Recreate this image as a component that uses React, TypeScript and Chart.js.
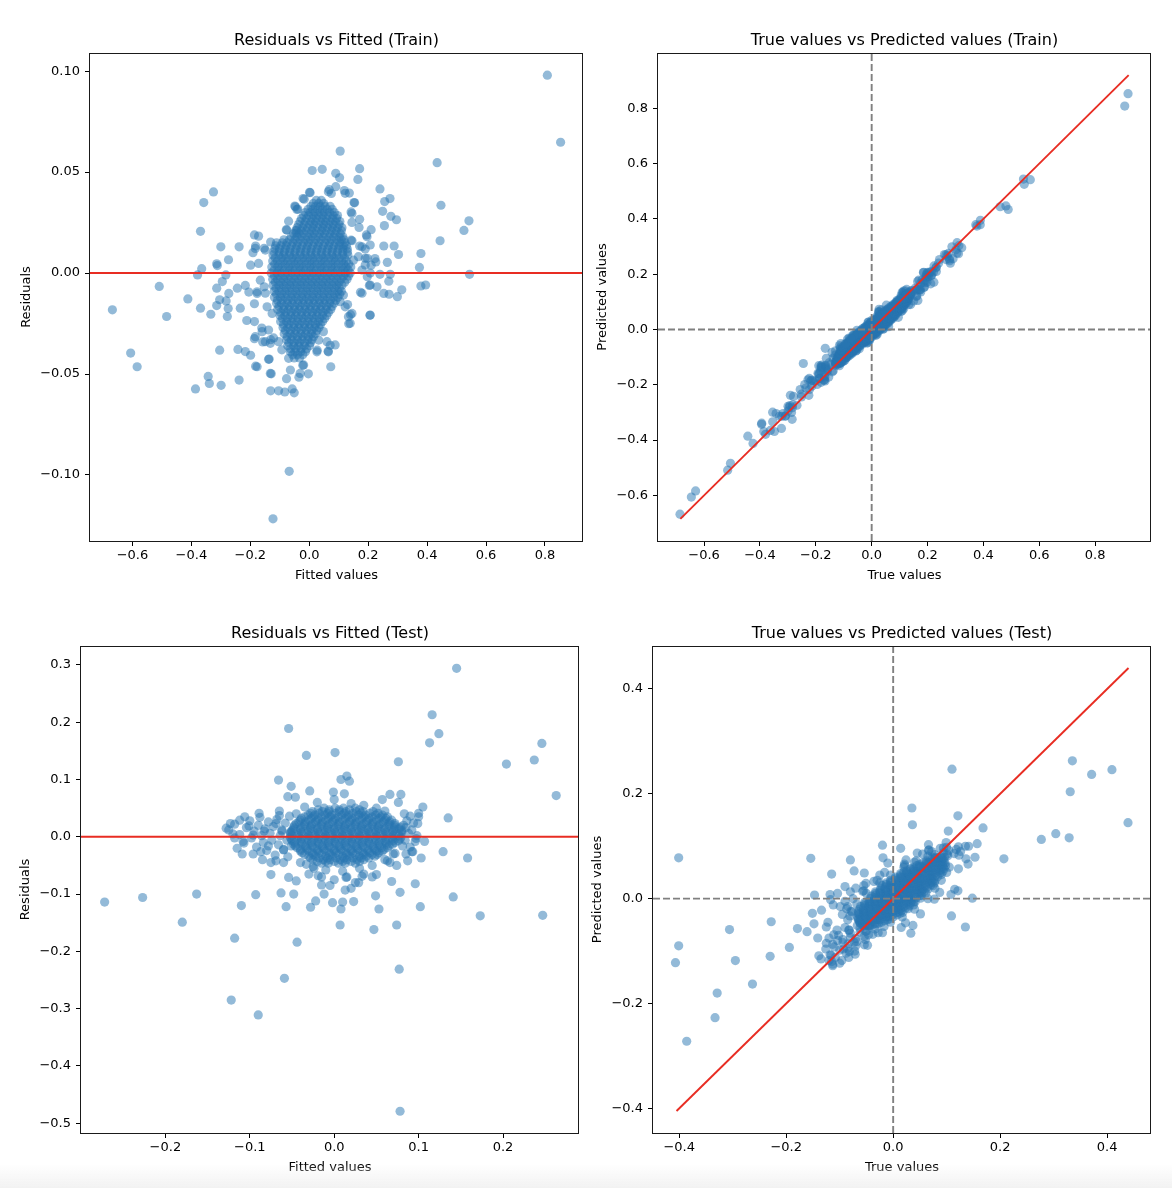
import React, { useEffect, useRef } from "react";
import { Chart, registerables } from "chart.js";

Chart.register(...registerables);

type Pair = [number, number];
type Row = [number, number[]];

// ---------------- TRAIN: [fitted value, residual] ----------------
const trainSparse: Pair[] = [
  [0.808, 0.098], [0.853, 0.0648], [0.105, 0.0604], [0.434, 0.0547], [0.01, 0.0508], [0.044, 0.0514],
  [0.171, 0.0517], [0.09, 0.0494], [0.103, 0.0472], [0.165, 0.0464], [0.24, 0.0417], [0.274, 0.0369],
  [0.256, 0.0354], [0.447, 0.0336], [0.249, 0.0306], [0.277, 0.0281], [0.296, 0.0264], [0.542, 0.0259],
  [0.525, 0.0211], [0.444, 0.016], [0.255, 0.0235], [0.253, 0.0134], [0.288, 0.0134], [0.303, 0.0092],
  [0.379, 0.0097], [0.374, 0.0028], [0.544, -0.0006], [0.379, -0.0064], [0.395, -0.0059], [0.314, -0.0083],
  [0.299, -0.0117], [0.271, -0.0105], [0.253, -0.0101], [0.27, -0.004], [0.275, -0.0006], [0.265, 0.0053],
  [0.24, -0.0006], [0.226, 0.0055], [0.21, 0.0039], [0.204, -0.0061], [0.23, -0.0068], [0.197, -0.0018],
  [0.206, -0.0209], [0.174, -0.0095], [0.134, -0.0251], [0.14, -0.0206], [0.13, -0.0156], [0.073, -0.0464],
  [0.064, -0.0387], [0.071, -0.0358], [0.027, -0.0382], [-0.003, -0.0499], [-0.022, -0.0457], [-0.035, -0.0516],
  [-0.051, -0.0593], [-0.058, -0.0574], [-0.083, -0.0589], [-0.104, -0.0583], [-0.131, -0.0583], [-0.129, -0.0499],
  [-0.136, -0.0426], [-0.077, -0.0523], [-0.068, -0.0982], [-0.123, -0.1217], [-0.182, -0.0461], [-0.199, -0.0407],
  [-0.217, -0.0389], [-0.242, -0.0378], [-0.238, -0.053], [-0.299, -0.0556], [-0.304, -0.0382], [-0.339, -0.0547],
  [-0.343, -0.0512], [-0.386, -0.0574], [-0.584, -0.0464], [-0.606, -0.0396], [-0.668, -0.0182], [-0.484, -0.0215],
  [-0.509, -0.0066], [-0.412, -0.0128], [-0.369, -0.0174], [-0.334, -0.0204], [-0.314, -0.0161], [-0.304, -0.0132],
  [-0.282, -0.0138], [-0.275, -0.0176], [-0.278, -0.0215], [-0.273, -0.0101], [-0.295, -0.0042], [-0.314, -0.0075],
  [-0.283, -0.0009], [-0.379, -0.0009], [-0.365, 0.0022], [-0.314, 0.0046], [-0.312, 0.0037], [-0.274, 0.0066],
  [-0.3, 0.013], [-0.325, 0.0402], [-0.358, 0.0349], [-0.369, 0.0207], [-0.238, 0.013], [-0.186, 0.0189],
  [-0.182, 0.0134], [-0.153, 0.0123], [-0.131, 0.0154], [-0.199, 0.0039], [-0.191, 0.0101], [-0.244, -0.0075],
  [-0.217, -0.0061], [-0.205, -0.0094], [-0.234, -0.0174], [-0.212, -0.0235], [-0.186, -0.024], [-0.186, -0.0152],
  [-0.177, -0.0101], [-0.153, -0.0068], [-0.161, -0.0272], [-0.186, -0.0325], [-0.158, -0.0341], [-0.131, -0.033],
  [-0.121, -0.0321], [0.001, 0.04], [-0.021, 0.0369], [-0.049, 0.0332], [-0.039, 0.0317], [-0.07, 0.0257],
  [-0.078, 0.0215], [-0.045, 0.0198], [0.075, 0.0394], [0.068, 0.0413], [0.09, 0.0428], [0.119, 0.0409],
  [0.136, 0.0396], [0.152, 0.0349], [0.142, 0.0303], [0.145, 0.0251], [0.171, 0.0266], [0.169, 0.0226],
  [0.194, 0.0189], [0.21, 0.0215], [0.142, 0.0163], [0.171, 0.0134], [0.19, 0.0119], [0.197, 0.0073],
  [0.223, 0.0072], [0.003, 0.0398], [-0.017, 0.0366], [0.065, 0.0403], [0.122, 0.0395], [0.154, 0.0348],
  [-0.047, 0.0328], [-0.042, 0.0315], [-0.076, 0.0213], [-0.042, 0.0213], [0.145, 0.0295], [0.196, 0.018],
  [0.207, 0.0139], [0.145, 0.016], [0.179, 0.013], [0.19, 0.0073], [-0.172, 0.0183], [-0.183, 0.0122],
  [-0.149, 0.0114], [-0.172, 0.0048], [-0.166, -0.0035], [-0.177, -0.0093], [-0.149, -0.01], [-0.143, -0.0167],
  [-0.126, -0.02], [-0.138, -0.0282], [-0.16, -0.029], [-0.183, -0.0315], [-0.149, -0.034], [-0.132, -0.0348],
  [-0.104, -0.034], [-0.093, -0.038], [-0.138, -0.0427], [-0.177, -0.0464], [-0.07, -0.0422], [-0.064, -0.048],
  [-0.019, -0.0455], [-0.031, -0.0497], [-0.132, -0.0497], [0.026, -0.039], [0.065, -0.039], [0.06, -0.034],
  [0.088, -0.0356], [0.032, -0.0332], [0.048, -0.029], [0.139, -0.0249], [0.133, -0.0216], [0.145, -0.02],
  [0.122, -0.0167], [0.105, -0.0142], [0.116, -0.0109], [0.179, -0.01], [0.207, -0.0059], [0.207, -0.0208],
  [0.15, 0.0064], [0.167, 0.0081], [0.19, 0.004], [0.179, 0.0015], [0.207, 0.0],
];

// dense core of the train cloud: [residual, fitted values on that level]
const trainCoreRows: Row[] = [
  [0.036, [0.024, 0.041]],
  [0.0345, [0.014, 0.032, 0.049]],
  [0.033, [0.006, 0.021, 0.037, 0.054, 0.071]],
  [0.0315, [-0.004, 0.012, 0.029, 0.045, 0.061, 0.078]],
  [0.03, [-0.013, 0.003, 0.019, 0.036, 0.051, 0.069, 0.085]],
  [0.0285, [-0.019, -0.002, 0.015, 0.031, 0.047, 0.064, 0.081, 0.096]],
  [0.027, [-0.026, -0.009, 0.011, 0.025, 0.044, 0.059, 0.078, 0.093]],
  [0.0255, [-0.031, -0.013, 0.006, 0.021, 0.039, 0.055, 0.072, 0.089, 0.104]],
  [0.024, [-0.036, -0.017, 0.001, 0.015, 0.034, 0.049, 0.067, 0.082, 0.101]],
  [0.0225, [-0.041, -0.022, -0.006, 0.012, 0.029, 0.046, 0.062, 0.079, 0.096, 0.111]],
  [0.021, [-0.046, -0.027, -0.011, 0.008, 0.023, 0.042, 0.057, 0.076, 0.091, 0.109]],
  [0.0195, [-0.053, -0.034, -0.018, 0.002, 0.017, 0.036, 0.052, 0.071, 0.087, 0.105]],
  [0.018, [-0.061, -0.041, -0.025, -0.005, 0.011, 0.031, 0.047, 0.067, 0.083, 0.101, 0.114]],
  [0.0165, [-0.086, -0.067, -0.048, -0.031, -0.012, 0.004, 0.022, 0.04, 0.059, 0.075, 0.094, 0.109, 0.118]],
  [0.015, [-0.111, -0.091, -0.075, -0.055, -0.039, -0.019, -0.003, 0.017, 0.033, 0.053, 0.069, 0.089, 0.104, 0.121]],
  [0.0135, [-0.114, -0.096, -0.078, -0.06, -0.042, -0.024, -0.006, 0.012, 0.03, 0.048, 0.066, 0.084, 0.101, 0.117, 0.126]],
  [0.012, [-0.117, -0.101, -0.081, -0.065, -0.045, -0.029, -0.009, 0.007, 0.027, 0.043, 0.063, 0.079, 0.099, 0.114, 0.129]],
  [0.0105, [-0.12, -0.102, -0.084, -0.066, -0.048, -0.03, -0.012, 0.006, 0.024, 0.042, 0.06, 0.078, 0.096, 0.114, 0.13]],
  [0.009, [-0.123, -0.103, -0.087, -0.067, -0.051, -0.031, -0.015, 0.005, 0.021, 0.041, 0.057, 0.077, 0.093, 0.113, 0.131]],
  [0.0075, [-0.115, -0.095, -0.079, -0.059, -0.043, -0.023, -0.007, 0.012, 0.03, 0.048, 0.066, 0.084, 0.102, 0.12]],
  [0.006, [-0.124, -0.108, -0.088, -0.072, -0.052, -0.036, -0.016, 0.002, 0.018, 0.038, 0.054, 0.074, 0.09, 0.11, 0.126]],
  [0.0045, [-0.117, -0.099, -0.081, -0.063, -0.045, -0.027, -0.009, 0.009, 0.027, 0.045, 0.063, 0.081, 0.099, 0.117, 0.134]],
  [0.003, [-0.127, -0.107, -0.091, -0.071, -0.055, -0.035, -0.019, 0.001, 0.017, 0.037, 0.053, 0.073, 0.089, 0.109, 0.125, 0.141]],
  [0.0015, [-0.119, -0.101, -0.083, -0.065, -0.047, -0.029, -0.011, 0.007, 0.025, 0.043, 0.061, 0.079, 0.097, 0.115, 0.132]],
  [0.0, [-0.129, -0.109, -0.093, -0.073, -0.057, -0.037, -0.021, -0.001, 0.015, 0.035, 0.051, 0.071, 0.087, 0.107, 0.123, 0.139]],
  [-0.0015, [-0.118, -0.1, -0.082, -0.064, -0.046, -0.028, -0.01, 0.008, 0.026, 0.044, 0.062, 0.08, 0.098, 0.116, 0.133]],
  [-0.003, [-0.124, -0.108, -0.088, -0.072, -0.052, -0.036, -0.016, 0.0, 0.02, 0.036, 0.056, 0.072, 0.092, 0.108, 0.128]],
  [-0.0045, [-0.115, -0.097, -0.079, -0.061, -0.043, -0.025, -0.007, 0.011, 0.029, 0.047, 0.065, 0.083, 0.101, 0.12]],
  [-0.006, [-0.123, -0.103, -0.087, -0.067, -0.051, -0.031, -0.015, 0.005, 0.021, 0.041, 0.057, 0.077, 0.093, 0.111]],
  [-0.0075, [-0.113, -0.095, -0.077, -0.059, -0.041, -0.023, -0.005, 0.013, 0.031, 0.049, 0.067, 0.085, 0.102]],
  [-0.009, [-0.119, -0.103, -0.083, -0.067, -0.047, -0.031, -0.011, 0.005, 0.025, 0.041, 0.061, 0.077, 0.097, 0.109]],
  [-0.0105, [-0.111, -0.093, -0.075, -0.057, -0.039, -0.021, -0.003, 0.015, 0.033, 0.051, 0.069, 0.087, 0.103]],
  [-0.012, [-0.118, -0.098, -0.082, -0.062, -0.046, -0.026, -0.01, 0.01, 0.026, 0.046, 0.062, 0.082, 0.097]],
  [-0.0135, [-0.108, -0.09, -0.072, -0.054, -0.036, -0.018, 0.0, 0.018, 0.036, 0.054, 0.072, 0.09]],
  [-0.015, [-0.111, -0.095, -0.075, -0.059, -0.039, -0.023, -0.003, 0.013, 0.033, 0.049, 0.069, 0.084]],
  [-0.0165, [-0.103, -0.085, -0.067, -0.049, -0.031, -0.013, 0.005, 0.023, 0.041, 0.059, 0.077]],
  [-0.018, [-0.107, -0.087, -0.071, -0.051, -0.035, -0.015, 0.001, 0.021, 0.037, 0.057, 0.073]],
  [-0.0195, [-0.097, -0.079, -0.061, -0.043, -0.025, -0.007, 0.011, 0.029, 0.047, 0.065]],
  [-0.021, [-0.099, -0.083, -0.063, -0.047, -0.027, -0.011, 0.009, 0.025, 0.045, 0.059]],
  [-0.0225, [-0.091, -0.073, -0.055, -0.037, -0.019, -0.001, 0.017, 0.035, 0.052]],
  [-0.024, [-0.097, -0.077, -0.061, -0.041, -0.025, -0.005, 0.011, 0.031, 0.045]],
  [-0.0255, [-0.087, -0.069, -0.051, -0.033, -0.015, 0.003, 0.021, 0.038]],
  [-0.027, [-0.089, -0.073, -0.053, -0.037, -0.017, -0.001, 0.019, 0.033]],
  [-0.0285, [-0.081, -0.063, -0.045, -0.027, -0.009, 0.009, 0.026]],
  [-0.03, [-0.085, -0.065, -0.049, -0.029, -0.013, 0.007, 0.021]],
  [-0.0315, [-0.075, -0.057, -0.039, -0.021, -0.003, 0.014]],
  [-0.033, [-0.077, -0.061, -0.041, -0.025, -0.005, 0.009]],
  [-0.0345, [-0.069, -0.051, -0.033, -0.015, 0.004]],
  [-0.036, [-0.073, -0.053, -0.037, -0.017, 0.001]],
  [-0.0375, [-0.064, -0.045, -0.027, -0.009]],
  [-0.039, [-0.064, -0.049, -0.029, -0.013]],
  [-0.0405, [-0.056, -0.04, -0.022]],
  [-0.042, [-0.051, -0.033]],
];

// ---------------- TEST: [fitted value, residual] ----------------
const testSparse: Pair[] = [
  [0.145, 0.294], [0.116, 0.213], [0.124, 0.18], [0.113, 0.164], [-0.054, 0.189], [0.246, 0.163],
  [0.237, 0.134], [0.204, 0.127], [0.263, 0.072], [0.001, 0.147], [-0.033, 0.142], [0.076, 0.131],
  [0.015, 0.106], [0.008, 0.1], [0.018, 0.097], [-0.066, 0.099], [-0.051, 0.088], [-0.029, 0.08],
  [-0.001, 0.078], [0.012, 0.075], [-0.055, 0.07], [-0.046, 0.069], [0.066, 0.074], [0.079, 0.074],
  [0.057, 0.065], [0.076, 0.06], [0.105, 0.052], [0.1, 0.041], [0.135, 0.033], [-0.089, 0.041],
  [-0.065, 0.037], [-0.106, 0.035], [-0.123, 0.023], [-0.128, 0.015], [-0.12, 0.005], [-0.118, -0.002],
  [-0.107, -0.011], [-0.109, -0.03], [-0.087, -0.026], [0.107, -0.008], [0.129, -0.026], [0.158, -0.037],
  [0.103, -0.037], [0.092, -0.026], [-0.075, -0.066], [-0.054, -0.071], [-0.045, -0.077], [0.05, -0.066],
  [0.068, -0.078], [0.096, -0.082], [0.078, -0.097], [-0.272, -0.114], [-0.227, -0.106], [-0.163, -0.1],
  [-0.093, -0.101], [-0.063, -0.098], [-0.048, -0.1], [-0.11, -0.12], [-0.057, -0.122], [-0.028, -0.123],
  [-0.022, -0.112], [-0.012, -0.1], [-0.002, -0.115], [0.008, -0.126], [0.01, -0.114], [0.023, -0.113],
  [0.049, -0.103], [0.053, -0.126], [0.102, -0.122], [0.141, -0.105], [0.173, -0.138], [0.247, -0.137],
  [-0.18, -0.149], [0.007, -0.154], [0.047, -0.162], [0.074, -0.154], [-0.118, -0.177], [-0.044, -0.184],
  [0.077, -0.231], [-0.059, -0.247], [-0.122, -0.285], [-0.09, -0.311], [0.078, -0.479], [-0.015, -0.084],
  [0.013, -0.093], [0.029, -0.08], [0.033, -0.069], [-0.024, -0.055], [-0.033, -0.048], [-0.019, -0.068],
  [0.014, -0.071], [0.097, -0.003], [0.099, 0.023], [0.1, 0.035], [0.085, 0.016], [0.081, -0.016],
  [0.072, -0.029], [0.063, -0.042], [0.074, -0.05], [0.066, -0.045], [-0.083, 0.01], [-0.078, -0.016],
  [-0.069, -0.042], [-0.06, -0.023], [-0.051, -0.016], [-0.069, 0.023], [-0.062, 0.01], [-0.096, 0.003],
  [-0.101, 0.019], [-0.112, 0.029],
  [-0.125, 0.012], [-0.118, 0.022], [-0.112, 0.004], [-0.108, -0.008], [-0.104, 0.016], [-0.1, 0.028],
  [-0.098, -0.002], [-0.095, 0.01], [-0.092, -0.018], [-0.09, 0.02], [-0.088, 0.034], [-0.086, 0.002],
  [-0.084, -0.01], [-0.082, 0.014], [-0.08, -0.024], [-0.078, 0.026], [-0.076, 0.006], [-0.074, -0.006],
  [-0.072, 0.018], [-0.07, -0.032], [-0.068, 0.03], [-0.066, -0.014], [-0.064, 0.002], [-0.062, 0.012],
  [-0.06, -0.022], [-0.058, 0.024], [-0.056, -0.006], [-0.055, -0.035], [-0.053, 0.036], [-0.052, 0.008],
  [-0.115, -0.02], [-0.096, -0.03], [-0.085, -0.04], [-0.075, -0.045], [-0.065, 0.045], [-0.06, -0.045],
  [0.082, 0.02], [0.084, -0.006], [0.086, 0.028], [0.088, 0.006], [0.09, -0.018], [0.092, 0.012],
  [0.094, 0.024], [0.096, -0.008], [0.085, -0.03], [0.09, 0.036], [0.098, 0.002], [0.083, 0.04],
  [0.087, -0.042], [0.093, -0.026],
  [-0.02, 0.06], [0.0, 0.065], [0.02, 0.058], [0.035, 0.055], [0.05, 0.05], [-0.035, 0.052],
  [0.06, 0.045], [0.045, -0.05], [0.03, -0.055], [0.01, -0.06], [-0.01, -0.058], [-0.025, -0.052],
  [-0.04, -0.045], [0.06, -0.04], [0.07, -0.03], [-0.045, 0.04], [0.015, -0.07], [0.0, -0.075],
  [-0.015, -0.07], [0.035, -0.065], [0.025, -0.08], [-0.03, -0.065], [0.045, -0.07], [-0.005, -0.085],
  [0.02, -0.09],
];

// dense core of the test cloud: [residual, fitted values on that level]
const testCoreRows: Row[] = [
  [0.05, [-0.012, 0.001, 0.011, 0.025]],
  [0.047, [-0.019, -0.006, 0.006, 0.018, 0.03]],
  [0.044, [-0.026, -0.014, -0.006, 0.006, 0.014, 0.026, 0.034, 0.046]],
  [0.041, [-0.028, -0.018, -0.008, 0.002, 0.012, 0.022, 0.032, 0.042, 0.052]],
  [0.038, [-0.031, -0.023, -0.011, -0.003, 0.009, 0.017, 0.029, 0.037, 0.049, 0.057]],
  [0.035, [-0.035, -0.025, -0.015, -0.005, 0.005, 0.015, 0.025, 0.035, 0.045, 0.055, 0.063]],
  [0.032, [-0.039, -0.027, -0.019, -0.007, 0.001, 0.013, 0.021, 0.033, 0.041, 0.053, 0.061]],
  [0.029, [-0.04, -0.03, -0.02, -0.01, 0.0, 0.01, 0.02, 0.03, 0.04, 0.05, 0.06, 0.068]],
  [0.026, [-0.042, -0.034, -0.022, -0.014, -0.002, 0.006, 0.018, 0.026, 0.038, 0.046, 0.058, 0.066]],
  [0.023, [-0.045, -0.035, -0.025, -0.015, -0.005, 0.005, 0.015, 0.025, 0.035, 0.045, 0.055, 0.065, 0.072]],
  [0.02, [-0.047, -0.035, -0.027, -0.015, -0.007, 0.005, 0.013, 0.025, 0.033, 0.045, 0.053, 0.065, 0.072]],
  [0.017, [-0.048, -0.038, -0.028, -0.018, -0.008, 0.002, 0.012, 0.022, 0.032, 0.042, 0.052, 0.062, 0.072, 0.079]],
  [0.014, [-0.048, -0.04, -0.028, -0.02, -0.008, 0.0, 0.012, 0.02, 0.032, 0.04, 0.052, 0.06, 0.071, 0.077]],
  [0.011, [-0.05, -0.04, -0.03, -0.02, -0.01, 0.0, 0.01, 0.02, 0.03, 0.04, 0.05, 0.06, 0.07, 0.08]],
  [0.008, [-0.051, -0.039, -0.031, -0.019, -0.011, 0.001, 0.009, 0.021, 0.029, 0.041, 0.049, 0.061, 0.069, 0.08]],
  [0.005, [-0.052, -0.042, -0.032, -0.022, -0.012, -0.002, 0.008, 0.018, 0.028, 0.038, 0.048, 0.058, 0.068, 0.078]],
  [0.002, [-0.05, -0.042, -0.03, -0.022, -0.01, -0.002, 0.01, 0.018, 0.03, 0.038, 0.05, 0.058, 0.07, 0.077]],
  [-0.001, [-0.052, -0.042, -0.032, -0.022, -0.012, -0.002, 0.008, 0.018, 0.028, 0.038, 0.048, 0.058, 0.068, 0.079]],
  [-0.004, [-0.051, -0.039, -0.031, -0.019, -0.011, 0.001, 0.009, 0.021, 0.029, 0.041, 0.049, 0.061, 0.069, 0.078]],
  [-0.007, [-0.05, -0.04, -0.03, -0.02, -0.01, 0.0, 0.01, 0.02, 0.03, 0.04, 0.05, 0.06, 0.07, 0.076]],
  [-0.01, [-0.047, -0.039, -0.027, -0.019, -0.007, 0.001, 0.013, 0.021, 0.033, 0.041, 0.053, 0.061, 0.072]],
  [-0.013, [-0.048, -0.038, -0.028, -0.018, -0.008, 0.002, 0.012, 0.022, 0.032, 0.042, 0.052, 0.062, 0.069]],
  [-0.016, [-0.046, -0.034, -0.026, -0.014, -0.006, 0.006, 0.014, 0.026, 0.034, 0.046, 0.054, 0.065]],
  [-0.019, [-0.044, -0.034, -0.024, -0.014, -0.004, 0.006, 0.016, 0.026, 0.036, 0.046, 0.056, 0.063]],
  [-0.022, [-0.04, -0.032, -0.02, -0.012, 0.0, 0.008, 0.02, 0.028, 0.04, 0.048, 0.059]],
  [-0.025, [-0.04, -0.03, -0.02, -0.01, 0.0, 0.01, 0.02, 0.03, 0.04, 0.05, 0.057]],
  [-0.028, [-0.038, -0.026, -0.018, -0.006, 0.002, 0.014, 0.022, 0.034, 0.042, 0.053]],
  [-0.031, [-0.035, -0.025, -0.015, -0.005, 0.005, 0.015, 0.025, 0.035, 0.045, 0.051]],
  [-0.034, [-0.03, -0.022, -0.01, -0.002, 0.01, 0.018, 0.03, 0.038, 0.048]],
  [-0.037, [-0.028, -0.018, -0.008, 0.002, 0.012, 0.022, 0.032, 0.041]],
  [-0.04, [-0.025, -0.013, -0.005, 0.007, 0.015, 0.027, 0.035]],
  [-0.043, [-0.02, -0.01, 0.0, 0.01, 0.02, 0.03]],
  [-0.046, [-0.015, -0.007, 0.005, 0.013, 0.025]],
];

// identity (y = x) line ends
const trainIdentity: [number, number] = [-0.685, 0.92];
const testIdentity: [number, number] = [-0.405, 0.44];

// axis ranges and tick labels
const trainResidXRange: [number, number] = [-0.744, 0.929];
const trainResidYRange: [number, number] = [-0.1327, 0.109];
const trainTrueRange: [number, number] = [-0.765, 1.0];
const testResidXRange: [number, number] = [-0.3, 0.29];
const testResidYRange: [number, number] = [-0.517, 0.333];
const testTrueXRange: [number, number] = [-0.449, 0.482];
const testTrueYRange: [number, number] = [-0.447, 0.482];

const trainFittedTicks = [-0.6, -0.4, -0.2, 0.0, 0.2, 0.4, 0.6, 0.8];
const trainResidTicks = [-0.1, -0.05, 0.0, 0.05, 0.1];
const trainPredTicks = [-0.6, -0.4, -0.2, 0.0, 0.2, 0.4, 0.6, 0.8];
const testFittedTicks = [-0.2, -0.1, 0.0, 0.1, 0.2];
const testResidTicks = [-0.5, -0.4, -0.3, -0.2, -0.1, 0.0, 0.1, 0.2, 0.3];
const testTrueTicks = [-0.4, -0.2, 0.0, 0.2, 0.4];

// ---------------- assemble series ----------------
function rowsToPairs(rows: Row[]): Pair[] {
  const out: Pair[] = [];
  for (const [res, xs] of rows) for (const f of xs) out.push([f, res]);
  return out;
}
const trainPairs = [...trainSparse, ...rowsToPairs(trainCoreRows)];
const testPairs = [...testSparse, ...rowsToPairs(testCoreRows)];

// residual = true - predicted  =>  true = predicted + residual
const trainResidPoints = trainPairs.map(([f, r]) => ({ x: f, y: r }));
const trainTruePredPoints = trainPairs.map(([f, r]) => ({ x: f + r, y: f }));
const testResidPoints = testPairs.map(([f, r]) => ({ x: f, y: r }));
const testTruePredPoints = testPairs.map(([f, r]) => ({ x: f + r, y: f }));

// ---------------- styling ----------------
const FONT = '"DejaVu Sans", sans-serif';
const POINT_COLOR = "rgba(40,117,177,0.5)";
const CLEAR = "rgba(0,0,0,0)";
const RED = "rgb(232,45,35)";
const GRAY = "rgb(128,128,128)";
const CW = 586;
const CH = 594;

interface RefLine { axis: "h" | "v"; value: number; color: string; dash: number[] }
interface PanelSpec {
  left: number; top: number;
  box: { left: number; top: number; right: number; bottom: number };
  title: string; xLabel: string; yLabel: string;
  xRange: [number, number]; yRange: [number, number];
  xTicks: number[]; yTicks: number[]; xDec: number; yDec: number;
  points: { x: number; y: number }[];
  identity?: [number, number];
  lines: RefLine[];
  yTitlePad: number; xTitlePad: number;
}

const panels: PanelSpec[] = [
  {
    left: 0, top: 0, box: { left: 90, top: 53, right: 583, bottom: 541 },
    title: "Residuals vs Fitted (Train)", xLabel: "Fitted values", yLabel: "Residuals",
    xRange: trainResidXRange, yRange: trainResidYRange, xTicks: trainFittedTicks, yTicks: trainResidTicks,
    xDec: 1, yDec: 2, points: trainResidPoints,
    lines: [{ axis: "h", value: 0, color: RED, dash: [] }], yTitlePad: 18.7, xTitlePad: 10.5,
  },
  {
    left: 586, top: 0, box: { left: 72, top: 53, right: 565, bottom: 541 },
    title: "True values vs Predicted values (Train)", xLabel: "True values", yLabel: "Predicted values",
    xRange: trainTrueRange, yRange: trainTrueRange, xTicks: trainFittedTicks, yTicks: trainPredTicks,
    xDec: 1, yDec: 1, points: trainTruePredPoints, identity: trainIdentity,
    lines: [
      { axis: "h", value: 0, color: GRAY, dash: [7, 3] },
      { axis: "v", value: 0, color: GRAY, dash: [7, 3] },
    ], yTitlePad: 8.8, xTitlePad: 10.5,
  },
  {
    left: 0, top: 594, box: { left: 81, top: 52, right: 579, bottom: 539 },
    title: "Residuals vs Fitted (Test)", xLabel: "Fitted values", yLabel: "Residuals",
    xRange: testResidXRange, yRange: testResidYRange, xTicks: testFittedTicks, yTicks: testResidTicks,
    xDec: 1, yDec: 1, points: testResidPoints,
    lines: [{ axis: "h", value: 0, color: RED, dash: [] }], yTitlePad: 18.2, xTitlePad: 13,
  },
  {
    left: 586, top: 594, box: { left: 67, top: 52, right: 565, bottom: 539 },
    title: "True values vs Predicted values (Test)", xLabel: "True values", yLabel: "Predicted values",
    xRange: testTrueXRange, yRange: testTrueYRange, xTicks: testTrueTicks, yTicks: testTrueTicks,
    xDec: 1, yDec: 1, points: testTruePredPoints, identity: testIdentity,
    lines: [
      { axis: "h", value: 0, color: GRAY, dash: [7, 3] },
      { axis: "v", value: 0, color: GRAY, dash: [7, 3] },
    ], yTitlePad: 4.3, xTitlePad: 13,
  },
];

const fmt = (v: number, d: number) => Number(v).toFixed(d).replace("-", "\u2212");

function buildConfig(s: PanelSpec): any {
  const tickFont = { family: FONT, size: 13 };
  const datasets: any[] = [
    {
      type: "scatter", data: s.points, order: 1,
      pointRadius: 4.6, pointHoverRadius: 4.6,
      pointBorderWidth: 0, pointHoverBorderWidth: 0, borderWidth: 0,
      pointBackgroundColor: POINT_COLOR, backgroundColor: POINT_COLOR,
      pointBorderColor: CLEAR, borderColor: CLEAR,
    },
  ];
  if (s.identity) {
    datasets.push({
      type: "line", order: 0,
      data: [{ x: s.identity[0], y: s.identity[0] }, { x: s.identity[1], y: s.identity[1] }],
      borderColor: RED, borderWidth: 1.9, pointRadius: 0, fill: false, tension: 0,
    });
  }
  const decor = {
    id: "decor",
    afterDatasetsDraw(chart: any) {
      const { ctx, chartArea: a, scales } = chart;
      ctx.save();
      ctx.beginPath();
      ctx.rect(a.left, a.top, a.right - a.left, a.bottom - a.top);
      ctx.clip();
      for (const ln of s.lines) {
        ctx.strokeStyle = ln.color;
        ctx.lineWidth = 1.9;
        ctx.setLineDash(ln.dash);
        ctx.beginPath();
        if (ln.axis === "h") {
          const y = scales.y.getPixelForValue(ln.value);
          ctx.moveTo(a.left, y);
          ctx.lineTo(a.right, y);
        } else {
          const x = scales.x.getPixelForValue(ln.value);
          ctx.moveTo(x, a.bottom);
          ctx.lineTo(x, a.top);
        }
        ctx.stroke();
      }
      ctx.restore();
    },
    afterDraw(chart: any) {
      const { ctx, chartArea: a } = chart;
      ctx.save();
      ctx.setLineDash([]);
      ctx.strokeStyle = "#1a1a1a";
      ctx.lineWidth = 1;
      ctx.strokeRect(Math.round(a.left) - 0.5, Math.round(a.top) + 0.5, Math.round(a.right - a.left), Math.round(a.bottom - a.top));
      ctx.fillStyle = "#000";
      ctx.font = `16px ${FONT}`;
      ctx.textAlign = "center";
      ctx.textBaseline = "alphabetic";
      ctx.fillText(s.title, (a.left + a.right) / 2, a.top - 8);
      ctx.restore();
    },
  };
  return {
    type: "scatter",
    data: { datasets },
    options: {
      animation: false,
      responsive: false,
      devicePixelRatio: 1,
      events: [],
      layout: {
        autoPadding: false,
        padding: { left: 0, top: s.box.top, right: CW - s.box.right, bottom: 0 },
      },
      plugins: { legend: { display: false }, tooltip: { enabled: false }, title: { display: false } },
      scales: {
        x: {
          type: "linear", position: "bottom", bounds: "data",
          min: s.xRange[0], max: s.xRange[1],
          afterBuildTicks: (sc: any) => { sc.ticks = s.xTicks.map((v) => ({ value: v })); },
          afterFit: (sc: any) => { sc.height = CH - s.box.bottom; },
          ticks: {
            callback: (v: any) => fmt(v, s.xDec), font: tickFont, color: "#000",
            padding: 2, maxRotation: 0, minRotation: 0, autoSkip: false,
          },
          grid: { display: true, drawOnChartArea: false, drawTicks: true, tickLength: 5, tickColor: "#000", tickWidth: 1 },
          border: { display: false },
          title: {
            display: true, text: s.xLabel, font: tickFont, color: "#000",
            padding: { top: 0, bottom: s.xTitlePad },
          },
        },
        y: {
          type: "linear", position: "left", bounds: "data",
          min: s.yRange[0], max: s.yRange[1],
          afterBuildTicks: (sc: any) => { sc.ticks = s.yTicks.map((v) => ({ value: v })); },
          afterFit: (sc: any) => { sc.width = s.box.left; },
          ticks: {
            callback: (v: any) => fmt(v, s.yDec), font: tickFont, color: "#000",
            padding: 5, autoSkip: false,
          },
          grid: { display: true, drawOnChartArea: false, drawTicks: true, tickLength: 5, tickColor: "#000", tickWidth: 1 },
          border: { display: false },
          title: {
            display: true, text: s.yLabel, font: tickFont, color: "#000",
            padding: { top: s.yTitlePad, bottom: 0 },
          },
        },
      },
    },
    plugins: [decor],
  };
}

function Panel({ spec }: { spec: PanelSpec }) {
  const ref = useRef<HTMLCanvasElement | null>(null);
  useEffect(() => {
    const canvas = ref.current;
    if (!canvas) return;
    const chart = new Chart(canvas, buildConfig(spec));
    return () => chart.destroy();
  }, [spec]);
  return (
    <canvas
      ref={ref}
      width={CW}
      height={CH}
      style={{ position: "absolute", left: spec.left, top: spec.top, width: CW, height: CH }}
    />
  );
}

export default function App() {
  return (
    <div
      style={{
        position: "absolute", left: 0, top: 0, width: 1172, height: 1188,
        background: "#ffffff", overflow: "hidden",
      }}
    >
      {panels.map((p, i) => (
        <Panel key={i} spec={p} />
      ))}
      <div
        style={{
          position: "absolute", left: 0, top: 1164, width: 1172, height: 24,
          background: "linear-gradient(to bottom, rgba(242,242,242,0), rgb(242,242,242))",
          pointerEvents: "none",
        }}
      />
    </div>
  );
}
